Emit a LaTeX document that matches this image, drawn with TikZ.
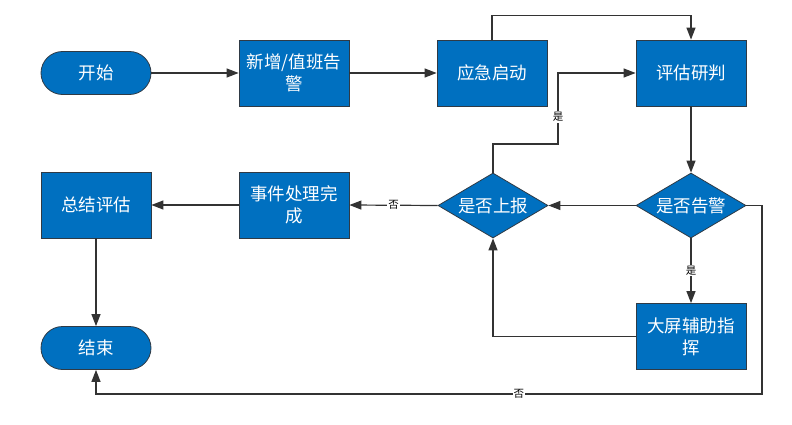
\documentclass[tikz,border=0pt]{standalone}
\usepackage{fontspec}
\setmainfont{Noto Sans CJK SC}
\usetikzlibrary{arrows.meta,shapes.geometric}
\definecolor{boxblue}{HTML}{0070C0}
\definecolor{edge}{HTML}{2F3A45}
\definecolor{wire}{HTML}{333333}
\tikzset{
  base/.style={fill=boxblue, draw=edge, line width=0.8pt, text=white,
    font=\fontsize{17.5}{22}\selectfont, align=center, inner sep=0pt},
  box/.style={base, rectangle, minimum width=110pt, minimum height=66pt},
  term/.style={base, rectangle, rounded corners=21.5pt, minimum width=110pt, minimum height=43pt},
  dec/.style={base, diamond, aspect=1.7, minimum width=110pt, minimum height=65pt},
  conn/.style={draw=wire, line width=1.2pt, -{Triangle[length=12pt,width=9pt]}},
  lbl/.style={fill=white, text=black, font=\fontsize{10.5}{12}\selectfont, inner sep=1pt}
}
\begin{document}
\begin{tikzpicture}[x=1pt,y=-1pt]
\useasboundingbox (0,0) rectangle (792,425);
\node[term] (start) at (96,73) {开始};
\node[box] (alarm) at (294,73) {新增/值班告\\警};
\node[box] (launch) at (492,73) {应急启动};
\node[box] (judge) at (691,73) {评估研判};
\node[dec] (alert) at (691,205.5) {是否告警};
\node[dec] (report) at (493,205.5) {是否上报};
\node[box] (done) at (294,205) {事件处理完\\成};
\node[box] (summary) at (96,205) {总结评估};
\node[term] (end) at (96,348) {结束};
\node[box] (screen) at (691,336.5) {大屏辅助指\\挥};
\coordinate (ya) at (558,144);
\coordinate (c2) at (762,205.5);
\coordinate (c3) at (762,394);
\coordinate (c4) at (96,394);
\draw[conn] (start) -- (alarm);
\draw[conn] (alarm) -- (launch);
\draw[conn] (launch.north) -- ++(0,-24) -| (judge.north);
\draw[conn] (judge) -- (alert);
\draw[conn] (alert) -- (report);
\draw[conn] (report.north) |- (ya) -- node[lbl, pos=0.38]{是} (ya |- judge.west) -- (judge.west);
\draw[conn] (alert.south) -- node[lbl]{是} (screen.north);
\draw[conn] (screen.west) -| (report.south);
\draw[conn] (report.west) -- node[lbl]{否} (done.east);
\draw[conn] (done) -- (summary);
\draw[conn] (summary) -- (end);
\draw[conn] (alert.east) -- (c2) -- (c3) -- node[lbl, pos=0.365]{否} (c4) -- (end.south);
\end{tikzpicture}
\end{document}
